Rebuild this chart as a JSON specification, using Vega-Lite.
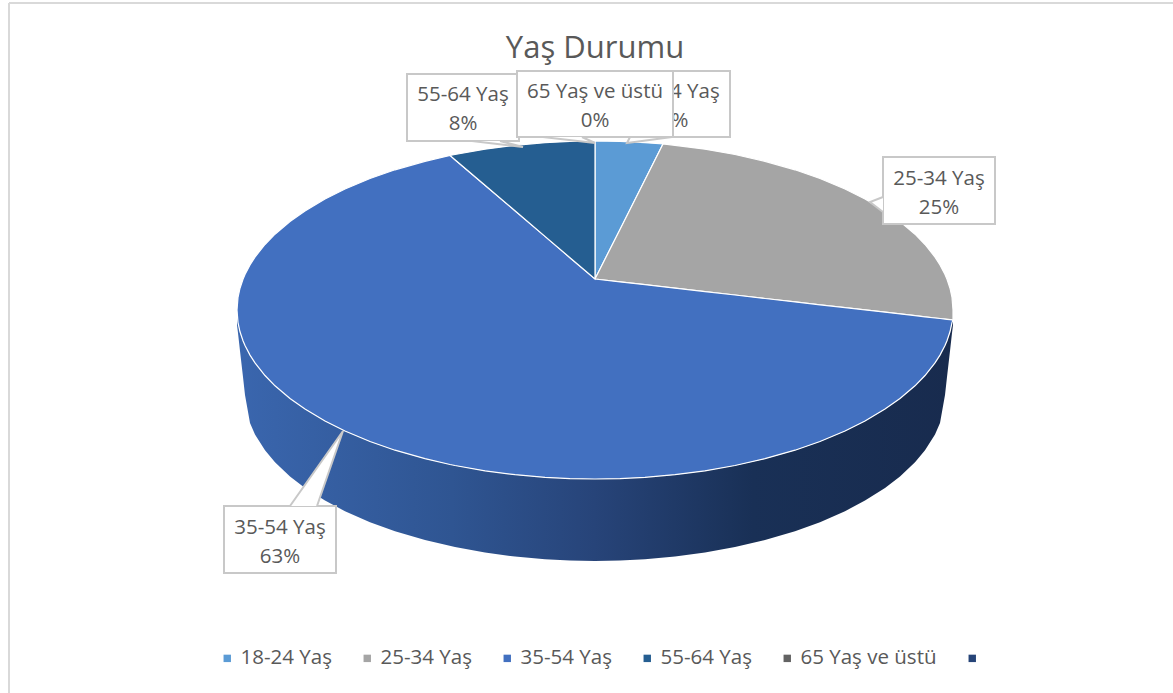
{
"$schema":"https://vega.github.io/schema/vega-lite/v6.json",
"width":1173,"height":693,"padding":0,"autosize":{"type":"none"},
"background":"white",
"view":{"stroke":null},
"title":{"text":"Yaş Durumu","font":"Open Sans","fontSize":31,"fontWeight":"normal","color":"#595959","anchor":"middle","frame":"group","dx":8.5,"dy":69,"orient":"top"},
"datasets":{
"wall":[
{"x":237,"y":312,"y2":325},{"x":238,"y":322.6,"y2":333},{"x":240,"y":331.8,"y2":351},{"x":243,"y":340.8,"y2":377},{"x":245,"y":345.5,"y2":395},{"x":250,"y":355.1,"y2":423},{"x":255,"y":362.9,"y2":434.4},{"x":265,"y":375.5,"y2":450.3},{"x":275,"y":385.8,"y2":462.2},{"x":290,"y":398.5,"y2":476.4},{"x":305,"y":409.1,"y2":487.9},{"x":325,"y":421,"y2":500.6},{"x":345,"y":431,"y2":511.2},{"x":370,"y":441.5,"y2":522.2},{"x":395,"y":450.2,"y2":531.2},{"x":425,"y":458.7,"y2":540.1},{"x":455,"y":465.5,"y2":547.1},{"x":485,"y":470.8,"y2":552.6},{"x":515,"y":474.7,"y2":556.6},{"x":545,"y":477.3,"y2":559.3},{"x":570,"y":478.6,"y2":560.6},{"x":595,"y":479,"y2":561},{"x":620,"y":478.6,"y2":560.6},{"x":645,"y":477.3,"y2":559.3},{"x":675,"y":474.7,"y2":556.6},{"x":705,"y":470.8,"y2":552.6},{"x":735,"y":465.5,"y2":547.1},{"x":765,"y":458.7,"y2":540.1},{"x":795,"y":450.2,"y2":531.2},{"x":820,"y":441.5,"y2":522.2},{"x":845,"y":431,"y2":511.2},{"x":865,"y":421,"y2":500.6},{"x":885,"y":409.1,"y2":487.9},{"x":900,"y":398.5,"y2":476.4},{"x":915,"y":385.8,"y2":462.2},{"x":925,"y":375.5,"y2":450.3},{"x":935,"y":362.9,"y2":434.4},{"x":940,"y":355.1,"y2":423},{"x":945,"y":345.5,"y2":395},{"x":947,"y":340.8,"y2":377},{"x":950,"y":331.8,"y2":351},{"x":952,"y":322.6,"y2":333},{"x":953,"y":320,"y2":325}
],
"slices":[
{"slice":"18-24 Yaş","x":595,"y":141,"y2":279},{"slice":"18-24 Yaş","x":620,"y":141.4,"y2":229.4},{"slice":"18-24 Yaş","x":645,"y":142.7,"y2":179.7},{"slice":"18-24 Yaş","x":663,"y":144,"y2":144},
{"slice":"25-34 Yaş","x":595,"y":279,"y2":279},{"slice":"25-34 Yaş","x":620,"y":229.4,"y2":281.9},{"slice":"25-34 Yaş","x":645,"y":179.7,"y2":284.7},{"slice":"25-34 Yaş","x":663,"y":144,"y2":286.8},{"slice":"25-34 Yaş","x":675,"y":145.3,"y2":288.2},{"slice":"25-34 Yaş","x":705,"y":149.2,"y2":291.6},{"slice":"25-34 Yaş","x":735,"y":154.5,"y2":295},{"slice":"25-34 Yaş","x":765,"y":161.3,"y2":298.5},{"slice":"25-34 Yaş","x":795,"y":169.8,"y2":301.9},{"slice":"25-34 Yaş","x":820,"y":178.5,"y2":304.8},{"slice":"25-34 Yaş","x":845,"y":189,"y2":307.6},{"slice":"25-34 Yaş","x":865,"y":199,"y2":309.9},{"slice":"25-34 Yaş","x":885,"y":210.9,"y2":312.2},{"slice":"25-34 Yaş","x":900,"y":221.5,"y2":313.9},{"slice":"25-34 Yaş","x":915,"y":234.2,"y2":315.6},{"slice":"25-34 Yaş","x":925,"y":244.5,"y2":316.8},{"slice":"25-34 Yaş","x":935,"y":257.1,"y2":318},{"slice":"25-34 Yaş","x":940,"y":264.9,"y2":318.5},{"slice":"25-34 Yaş","x":945,"y":274.5,"y2":319.1},{"slice":"25-34 Yaş","x":947,"y":279.2,"y2":319.3},{"slice":"25-34 Yaş","x":950,"y":288.2,"y2":319.6},{"slice":"25-34 Yaş","x":952,"y":297.4,"y2":319.9},{"slice":"25-34 Yaş","x":953,"y":310,"y2":320},
{"slice":"35-54 Yaş","x":237,"y":310,"y2":310},{"slice":"35-54 Yaş","x":238,"y":297.4,"y2":322.6},{"slice":"35-54 Yaş","x":240,"y":288.2,"y2":331.8},{"slice":"35-54 Yaş","x":243,"y":279.2,"y2":340.8},{"slice":"35-54 Yaş","x":245,"y":274.5,"y2":345.5},{"slice":"35-54 Yaş","x":250,"y":264.9,"y2":355.1},{"slice":"35-54 Yaş","x":255,"y":257.1,"y2":362.9},{"slice":"35-54 Yaş","x":265,"y":244.5,"y2":375.5},{"slice":"35-54 Yaş","x":275,"y":234.2,"y2":385.8},{"slice":"35-54 Yaş","x":290,"y":221.5,"y2":398.5},{"slice":"35-54 Yaş","x":305,"y":210.9,"y2":409.1},{"slice":"35-54 Yaş","x":325,"y":199,"y2":421},{"slice":"35-54 Yaş","x":345,"y":189,"y2":431},{"slice":"35-54 Yaş","x":370,"y":178.5,"y2":441.5},{"slice":"35-54 Yaş","x":395,"y":169.8,"y2":450.2},{"slice":"35-54 Yaş","x":425,"y":161.3,"y2":458.7},{"slice":"35-54 Yaş","x":450,"y":155.4,"y2":464.5},{"slice":"35-54 Yaş","x":455,"y":159.7,"y2":465.5},{"slice":"35-54 Yaş","x":485,"y":185.2,"y2":470.8},{"slice":"35-54 Yaş","x":515,"y":210.8,"y2":474.7},{"slice":"35-54 Yaş","x":545,"y":236.4,"y2":477.3},{"slice":"35-54 Yaş","x":570,"y":257.7,"y2":478.6},{"slice":"35-54 Yaş","x":595,"y":279,"y2":479},{"slice":"35-54 Yaş","x":620,"y":281.9,"y2":478.6},{"slice":"35-54 Yaş","x":645,"y":284.7,"y2":477.3},{"slice":"35-54 Yaş","x":675,"y":288.2,"y2":474.7},{"slice":"35-54 Yaş","x":705,"y":291.6,"y2":470.8},{"slice":"35-54 Yaş","x":735,"y":295,"y2":465.5},{"slice":"35-54 Yaş","x":765,"y":298.5,"y2":458.7},{"slice":"35-54 Yaş","x":795,"y":301.9,"y2":450.2},{"slice":"35-54 Yaş","x":820,"y":304.8,"y2":441.5},{"slice":"35-54 Yaş","x":845,"y":307.6,"y2":431},{"slice":"35-54 Yaş","x":865,"y":309.9,"y2":421},{"slice":"35-54 Yaş","x":885,"y":312.2,"y2":409.1},{"slice":"35-54 Yaş","x":900,"y":313.9,"y2":398.5},{"slice":"35-54 Yaş","x":915,"y":315.6,"y2":385.8},{"slice":"35-54 Yaş","x":925,"y":316.8,"y2":375.5},{"slice":"35-54 Yaş","x":935,"y":318,"y2":362.9},{"slice":"35-54 Yaş","x":940,"y":318.5,"y2":355.1},{"slice":"35-54 Yaş","x":945,"y":319.1,"y2":345.5},{"slice":"35-54 Yaş","x":947,"y":319.3,"y2":340.8},{"slice":"35-54 Yaş","x":950,"y":319.6,"y2":331.8},{"slice":"35-54 Yaş","x":952,"y":319.9,"y2":322.6},{"slice":"35-54 Yaş","x":953,"y":320,"y2":320},
{"slice":"55-64 Yaş","x":450,"y":155.4,"y2":155.4},{"slice":"55-64 Yaş","x":455,"y":154.5,"y2":159.7},{"slice":"55-64 Yaş","x":485,"y":149.2,"y2":185.2},{"slice":"55-64 Yaş","x":515,"y":145.3,"y2":210.8},{"slice":"55-64 Yaş","x":545,"y":142.7,"y2":236.4},{"slice":"55-64 Yaş","x":570,"y":141.4,"y2":257.7},{"slice":"55-64 Yaş","x":595,"y":141,"y2":279}
],
"boxes":[
{"name":"55-64 Yaş","z":1,"x":407,"x2":519,"y":74,"y2":141},
{"name":"18-24 Yaş","z":1,"x":618,"x2":730,"y":71,"y2":137},
{"name":"65 Yaş ve üstü","z":2,"x":517,"x2":673,"y":71,"y2":137},
{"name":"25-34 Yaş","z":1,"x":883,"x2":995,"y":157,"y2":224},
{"name":"35-54 Yaş","z":1,"x":224,"x2":336,"y":506,"y2":573}
],
"wedgeFill":[
{"name":"55-64 Yaş","z":1,"x":472,"y":141,"y2":141},{"name":"55-64 Yaş","z":1,"x":500,"y":141,"y2":144.3},{"name":"55-64 Yaş","z":1,"x":523,"y":147,"y2":147},
{"name":"18-24 Yaş","z":1,"x":627,"y":143,"y2":143},{"name":"18-24 Yaş","z":1,"x":630,"y":137,"y2":142.6},{"name":"18-24 Yaş","z":1,"x":672,"y":137,"y2":137},
{"name":"65 Yaş ve üstü","z":2,"x":543,"y":137,"y2":137},{"name":"65 Yaş ve üstü","z":2,"x":582,"y":137,"y2":141.5},{"name":"65 Yaş ve üstü","z":2,"x":595,"y":143,"y2":143},
{"name":"25-34 Yaş","z":1,"x":870,"y":202,"y2":202},{"name":"25-34 Yaş","z":1,"x":883,"y":197,"y2":212},
{"name":"35-54 Yaş","z":1,"x":290,"y":506,"y2":506},{"name":"35-54 Yaş","z":1,"x":317,"y":467.8,"y2":506},{"name":"35-54 Yaş","z":1,"x":343,"y":431,"y2":431}
],
"wedgeEdge":[
{"name":"55-64 Yaş","z":1,"o":1,"x":472,"y":141},{"name":"55-64 Yaş","z":1,"o":2,"x":523,"y":147},{"name":"55-64 Yaş","z":1,"o":3,"x":500,"y":141},
{"name":"18-24 Yaş","z":1,"o":1,"x":630,"y":137},{"name":"18-24 Yaş","z":1,"o":2,"x":627,"y":143},{"name":"18-24 Yaş","z":1,"o":3,"x":672,"y":137},
{"name":"65 Yaş ve üstü","z":2,"o":1,"x":543,"y":137},{"name":"65 Yaş ve üstü","z":2,"o":2,"x":595,"y":143},{"name":"65 Yaş ve üstü","z":2,"o":3,"x":582,"y":137},
{"name":"25-34 Yaş","z":1,"o":1,"x":883,"y":197},{"name":"25-34 Yaş","z":1,"o":2,"x":870,"y":202},{"name":"25-34 Yaş","z":1,"o":3,"x":883,"y":212},
{"name":"35-54 Yaş","z":1,"o":1,"x":290,"y":506},{"name":"35-54 Yaş","z":1,"o":2,"x":343,"y":431},{"name":"35-54 Yaş","z":1,"o":3,"x":317,"y":506}
],
"labels":[
{"z":1,"x":463,"y":95,"label":"55-64 Yaş\n8%"},
{"z":1,"x":674,"y":92,"label":"18-24 Yaş\n4%"},
{"z":2,"x":595,"y":92,"label":"65 Yaş ve üstü\n0%"},
{"z":1,"x":939,"y":179,"label":"25-34 Yaş\n25%"},
{"z":1,"x":280,"y":528,"label":"35-54 Yaş\n63%"}
],
"frameLines":[
{"x":9,"y":3,"x2":1173,"y2":3},{"x":9,"y":3,"x2":9,"y2":693}
]
},
"encoding":{
"x":{"field":"x","type":"quantitative","scale":{"domain":[0,1173],"nice":false,"zero":false},"axis":null},
"y":{"field":"y","type":"quantitative","scale":{"domain":[693,0],"nice":false,"zero":false},"axis":null}
},
"layer":[
{"data":{"name":"frameLines"},"mark":{"type":"rule","color":"#d9d9d9","strokeWidth":2},"encoding":{"x2":{"field":"x2"},"y2":{"field":"y2"}}},
{"data":{"name":"wall"},"mark":{"type":"area","fill":{"gradient":"linear","x1":0,"x2":1,"y1":0,"y2":0,"stops":[{"offset":0,"color":"#3a66ae"},{"offset":0.3,"color":"#2f5592"},{"offset":0.5,"color":"#274479"},{"offset":0.72,"color":"#193056"},{"offset":1,"color":"#182b4e"}]}},"encoding":{"y2":{"field":"y2"}}},
{"data":{"name":"slices"},"mark":{"type":"area","stroke":"white","strokeWidth":1.2},"encoding":{"y2":{"field":"y2"},"color":{"field":"slice","type":"nominal","scale":{"domain":["18-24 Yaş","25-34 Yaş","35-54 Yaş","55-64 Yaş","65 Yaş ve üstü"," "],"range":["#5b9bd5","#a5a5a5","#4270c0","#255e91","#636363","#264478"]},"legend":{"orient":"none","legendX":217,"legendY":648,"direction":"horizontal","columns":6,"title":null,"symbolType":"square","symbolSize":55,"symbolStrokeWidth":0,"labelFont":"Open Sans","labelFontSize":20.5,"labelColor":"#595959","columnPadding":25,"labelOffset":3}}}},
{"data":{"name":"boxes"},"transform":[{"filter":"datum.z==1"}],"mark":{"type":"rect","fill":"white","stroke":"#c8c8c8","strokeWidth":2},"encoding":{"x2":{"field":"x2"},"y2":{"field":"y2"}}},
{"data":{"name":"wedgeFill"},"transform":[{"filter":"datum.z==1"}],"mark":{"type":"area","fill":"white"},"encoding":{"y2":{"field":"y2"},"detail":{"field":"name"}}},
{"data":{"name":"wedgeEdge"},"transform":[{"filter":"datum.z==1"}],"mark":{"type":"line","color":"#c8c8c8","strokeWidth":2},"encoding":{"detail":{"field":"name"},"order":{"field":"o"}}},
{"data":{"name":"labels"},"transform":[{"filter":"datum.z==1"}],"mark":{"type":"text","font":"Open Sans","fontSize":20.5,"color":"#595959","lineBreak":"\n","lineHeight":29,"align":"center","baseline":"middle"},"encoding":{"text":{"field":"label"}}},
{"data":{"name":"boxes"},"transform":[{"filter":"datum.z==2"}],"mark":{"type":"rect","fill":"white","stroke":"#c8c8c8","strokeWidth":2},"encoding":{"x2":{"field":"x2"},"y2":{"field":"y2"}}},
{"data":{"name":"wedgeFill"},"transform":[{"filter":"datum.z==2"}],"mark":{"type":"area","fill":"white"},"encoding":{"y2":{"field":"y2"},"detail":{"field":"name"}}},
{"data":{"name":"wedgeEdge"},"transform":[{"filter":"datum.z==2"}],"mark":{"type":"line","color":"#c8c8c8","strokeWidth":2},"encoding":{"detail":{"field":"name"},"order":{"field":"o"}}},
{"data":{"name":"labels"},"transform":[{"filter":"datum.z==2"}],"mark":{"type":"text","font":"Open Sans","fontSize":20.5,"color":"#595959","lineBreak":"\n","lineHeight":29,"align":"center","baseline":"middle"},"encoding":{"text":{"field":"label"}}}
]
}
